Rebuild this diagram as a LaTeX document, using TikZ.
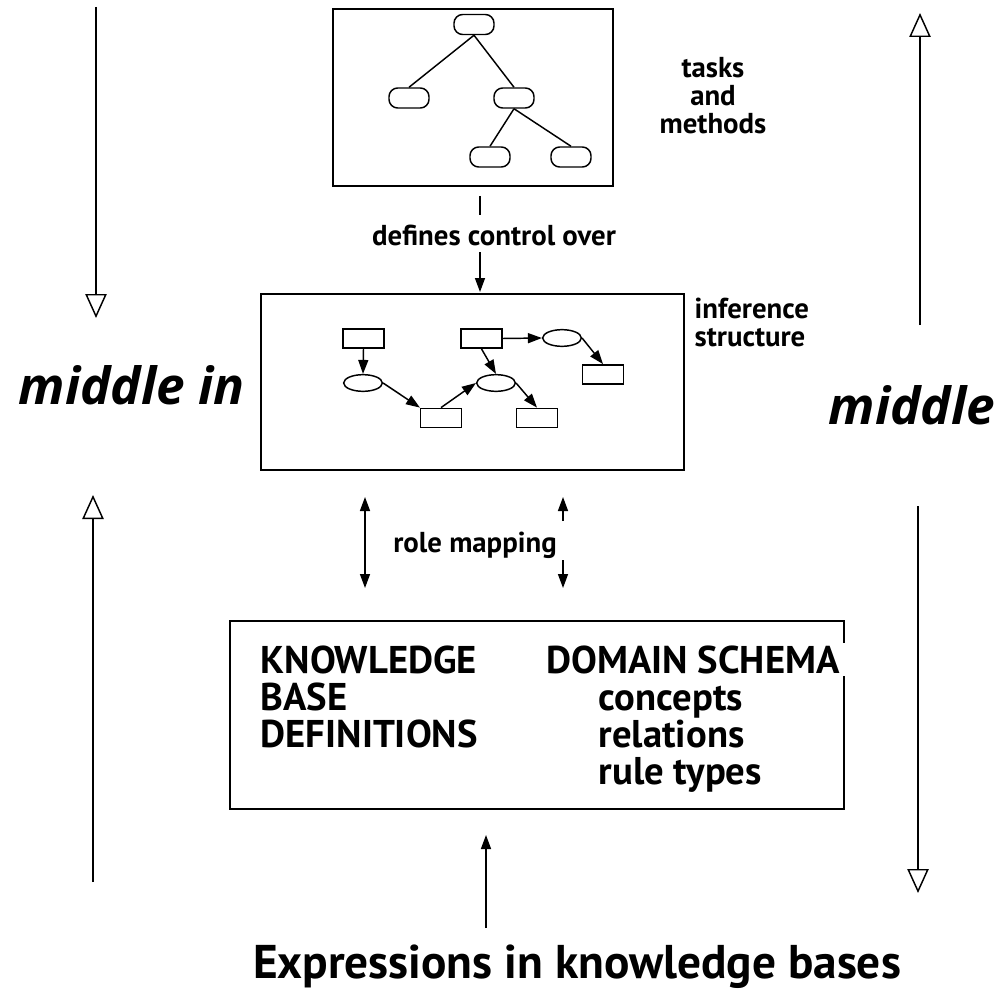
\documentclass[tikz,border=0pt]{standalone}
\usepackage{fontspec}
\setmainfont{PT Sans}
\newfontfamily\flowfont{Open Sans}
\usetikzlibrary{arrows.meta,shapes.geometric}
\begin{document}
\begin{tikzpicture}[x=0.75pt,y=-0.75pt,line width=1.1pt,
  panel/.style={draw,line width=1.1pt},
  treenode/.style={draw,rectangle,rounded corners=6.5pt,minimum width=30pt,minimum height=15pt,inner sep=0pt},
  infrect/.style={draw,rectangle,minimum width=30.5pt,minimum height=14.5pt,inner sep=0pt},
  infoval/.style={draw,ellipse,minimum width=29pt,minimum height=12.5pt,inner sep=0pt},
  small/.style={font=\fontsize{21.6pt}{21pt}\selectfont\bfseries,inner sep=0pt},
  kb/.style={font=\fontsize{29pt}{30pt}\selectfont\bfseries,inner sep=0pt,anchor=base west},
  side/.style={font=\flowfont\fontsize{38.5pt}{40pt}\selectfont\bfseries\itshape,inner sep=0pt},
  fat/.style={-{Triangle[length=10.5pt,width=7.5pt]}},
  fatboth/.style={{Triangle[length=10.5pt,width=7.5pt]}-{Triangle[length=10.5pt,width=7.5pt]}},
  hollow/.style={-{Triangle[open,length=18pt,width=16pt]}}]
\useasboundingbox (0,0) rectangle (1003,995);

% tasks and methods panel
\draw[panel] (333,9) rectangle (613,186);
\coordinate (taskbot) at (480,196);
\node[treenode] (t0) at (474,24.5) {};
\node[treenode] (t1) at (409,98) {};
\node[treenode] (t2) at (514,98) {};
\node[treenode] (t3) at (490,157) {};
\node[treenode] (t4) at (571,157) {};
\draw (t0.south) -- (t1.north);
\draw (t0.south) -- (t2.north);
\draw (t2.south) -- (t3.north);
\draw (t2.south) -- (t4.north);
\node[small,align=center] (tm) at (713,96) {tasks\\and\\methods};

% control link
\node[small] (ctl) at (494,235) {defines control over};
\coordinate (c1) at (480,215);
\coordinate (c2) at (480,252);
\coordinate (c3) at (480,292);
\draw (taskbot) -- (c1);
\draw[fat] (c2) -- (c3);

% inference structure panel
\draw[panel] (261,294) rectangle (684,470);
\node[small,align=left,anchor=west] (inf) at (694,322) {inference\\structure};
\node[infrect] (r1) at (363.5,338.5) {};
\node[infoval] (e1) at (363,383) {};
\node[infrect] (r2) at (441,418) {};
\node[infoval] (e2) at (496,383) {};
\node[infrect] (r3) at (481.5,338.5) {};
\node[infoval] (e3) at (562,338) {};
\node[infrect] (r4) at (603,374.5) {};
\node[infrect] (r5) at (537,418) {};
\draw[fat] (r1.south) -- (e1.north);
\draw[fat] (e1.east) -- (r2.north west);
\draw[fat] (r2.north) -- (e2.west);
\draw[fat] (r3.south) -- (e2.north);
\draw[fat] (e2.east) -- (r5.north);
\draw[fat] (r3.east) -- (e3.west);
\draw[fat] (e3.east) -- (r4.north);

% role mapping
\node[small] (rm) at (475,545) {role mapping};
\coordinate (m1) at (365,497);
\coordinate (m2) at (365,588);
\coordinate (m3) at (563,521);
\coordinate (m4) at (563,497);
\coordinate (m5) at (563,560);
\coordinate (m6) at (563,588);
\draw[fatboth] (m1) -- (m2);
\draw[fat] (m3) -- (m4);
\draw[fat] (m5) -- (m6);

% knowledge base panel
\draw[panel] (230,621) rectangle (844,809);
\node[kb] (k1) at (260,673) {KNOWLEDGE};
\node[kb] (k2) at (260,710) {BASE};
\node[kb] (k3) at (260,747) {DEFINITIONS};
\node[kb,fill=white,inner xsep=5pt,inner ysep=2pt] (d1) at (539,673) {DOMAIN SCHEMA};
\node[kb] (d2) at (598,710) {concepts};
\node[kb] (d3) at (598,747) {relations};
\node[kb] (d4) at (598,784) {rule types};

% bottom input
\coordinate (b1) at (486,928);
\coordinate (b2) at (486,835);
\draw[fat] (b1) -- (b2);
\node[font=\fontsize{35.5pt}{38pt}\selectfont\bfseries,inner sep=0pt] (expr) at (577,967) {Expressions in knowledge bases};

% side flows
\node[side,anchor=west] (mi) at (18,385) {middle in};
\node[side,anchor=west] (mo) at (828,405) {middle};
\coordinate (l1) at (96,7);
\coordinate (l2) at (96,318);
\coordinate (l3) at (93,882);
\coordinate (l4) at (93,495);
\coordinate (q1) at (920,325);
\coordinate (q2) at (920,13);
\coordinate (q3) at (918,506);
\coordinate (q4) at (918,893);
\draw[hollow] (l1) -- (l2);
\draw[hollow] (l3) -- (l4);
\draw[hollow] (q1) -- (q2);
\draw[hollow] (q3) -- (q4);
\end{tikzpicture}
\end{document}
